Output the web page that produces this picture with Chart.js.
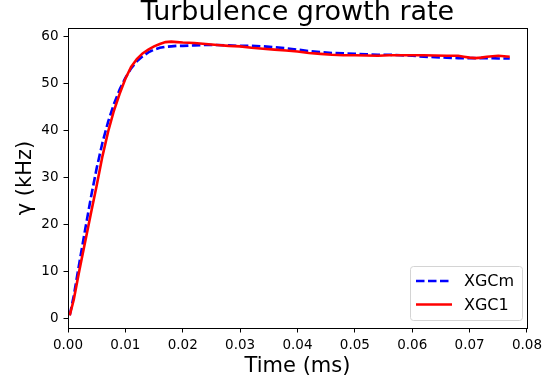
<!DOCTYPE html>
<html>
<head>
<meta charset="utf-8">
<script src="https://cdn.jsdelivr.net/npm/chart.js@4.4.1/dist/chart.umd.min.js"></script>
<style>
  html, body { margin: 0; padding: 0; background: #fff; }
  #wrap { width: 547px; height: 385px; }
</style>
</head>
<body>
<div id="wrap"><canvas id="growthChart" width="547" height="385"></canvas></div>
<script>
// time axis (ms), shared by both runs
const timeMs = [
  0.0003, 0.001, 0.002, 0.003, 0.004, 0.005, 0.006, 0.007, 0.008, 0.009,
  0.010, 0.011, 0.012, 0.013, 0.014, 0.015, 0.016, 0.017, 0.018, 0.019,
  0.020, 0.022, 0.024, 0.026, 0.028, 0.030, 0.032, 0.034, 0.036, 0.038,
  0.040, 0.042, 0.044, 0.046, 0.048, 0.050, 0.052, 0.054, 0.056, 0.058,
  0.060, 0.062, 0.064, 0.066, 0.068, 0.069, 0.070, 0.071, 0.072, 0.073,
  0.074, 0.075, 0.076, 0.077
];
// growth rate gamma (kHz)
const xgcm = [
  0.7, 4.8, 12.0, 19.0, 25.8, 32.0, 37.4, 41.9, 45.6, 48.7,
  51.2, 53.2, 54.7, 55.8, 56.6, 57.2, 57.6, 57.8, 57.9, 58.0,
  58.0, 58.1, 58.2, 58.2, 58.1, 58.0, 58.0, 57.9, 57.7, 57.5,
  57.2, 56.9, 56.7, 56.5, 56.4, 56.3, 56.2, 56.1, 56.1, 56.0,
  55.9, 55.7, 55.6, 55.5, 55.4, 55.4, 55.4, 55.4, 55.4, 55.4,
  55.4, 55.3, 55.3, 55.3
];
const xgc1 = [
  0.7, 4.0, 10.4, 16.4, 22.4, 28.3, 34.5, 39.8, 44.2, 47.8,
  51.0, 53.5, 55.2, 56.4, 57.2, 57.9, 58.4, 58.8, 58.9, 58.8,
  58.7, 58.6, 58.4, 58.2, 58.0, 57.9, 57.6, 57.4, 57.2, 57.0,
  56.8, 56.5, 56.3, 56.1, 56.0, 56.0, 55.95, 55.9, 56.0, 56.0,
  56.0, 56.0, 55.95, 55.9, 55.9, 55.7, 55.5, 55.4, 55.5, 55.7,
  55.8, 55.9, 55.8, 55.7
];
const seriesNames = ['XGCm', 'XGC1'];
const yTicks = [0, 10, 20, 30, 40, 50, 60];
const xTicks = [0, 0.01, 0.02, 0.03, 0.04, 0.05, 0.06, 0.07, 0.08];

const toPoints = (ys) => timeMs.map((t, i) => ({ x: t, y: ys[i] }));

Chart.defaults.font.family = '"DejaVu Sans", sans-serif';
Chart.defaults.color = '#000';

// title, full frame and boxed legend like matplotlib
const mplDecor = {
  id: 'mplDecor',
  afterDatasetsDraw(chart) {
    const { ctx, chartArea: a } = chart;
    ctx.save();
    ctx.strokeStyle = '#000';
    ctx.lineWidth = 1;
    ctx.strokeRect(Math.round(a.left) + 0.5, Math.round(a.top) + 0.5,
      Math.round(a.right - a.left), Math.round(a.bottom - a.top));
    ctx.restore();
  },
  afterDraw(chart) {
    const { ctx, chartArea: a } = chart;
    ctx.save();
    ctx.fillStyle = '#000';
    ctx.font = '27px "DejaVu Sans"';
    ctx.textAlign = 'center';
    ctx.textBaseline = 'alphabetic';
    ctx.fillText('Turbulence growth rate', (a.left + a.right) / 2, 19.5);

    // legend box
    const bx = 410.5, by = 266.5, bw = 112, bh = 54, r = 3;
    ctx.beginPath();
    ctx.moveTo(bx + r, by);
    ctx.arcTo(bx + bw, by, bx + bw, by + bh, r);
    ctx.arcTo(bx + bw, by + bh, bx, by + bh, r);
    ctx.arcTo(bx, by + bh, bx, by, r);
    ctx.arcTo(bx, by, bx + bw, by, r);
    ctx.closePath();
    ctx.fillStyle = 'rgba(255,255,255,0.8)';
    ctx.fill();
    ctx.strokeStyle = '#d4d4d4';
    ctx.stroke();

    const ds = chart.data.datasets;
    ctx.font = '16px "DejaVu Sans"';
    ctx.textAlign = 'left';
    ctx.textBaseline = 'middle';
    ds.forEach((d, i) => {
      const y = 281 + i * 23.5;
      ctx.beginPath();
      ctx.setLineDash(d.borderDash || []);
      ctx.strokeStyle = d.borderColor;
      ctx.lineWidth = d.borderWidth;
      ctx.moveTo(416, y);
      ctx.lineTo(452, y);
      ctx.stroke();
      ctx.setLineDash([]);
      ctx.fillStyle = '#000';
      ctx.fillText(d.label, 464, y + 1);
    });
    ctx.restore();
  }
};

new Chart(document.getElementById('growthChart'), {
  type: 'line',
  data: {
    datasets: [
      {
        label: seriesNames[0],
        data: toPoints(xgcm),
        borderColor: '#0000ff',
        borderWidth: 2.6,
        borderDash: [8.5, 3.5],
        pointRadius: 0,
        tension: 0,
        order: 1
      },
      {
        label: seriesNames[1],
        data: toPoints(xgc1),
        borderColor: '#ff0000',
        borderWidth: 2.6,
        pointRadius: 0,
        tension: 0,
        order: 0
      }
    ]
  },
  plugins: [mplDecor],
  options: {
    responsive: false,
    animation: false,
    layout: { padding: { top: 28, right: 17, left: 0, bottom: 0 } },
    plugins: {
      legend: { display: false },
      title: { display: false },
      tooltip: { enabled: false }
    },
    scales: {
      x: {
        type: 'linear',
        min: 0,
        max: 0.08,
        afterFit: (s) => { s.height = 57; },
        afterBuildTicks: (s) => { s.ticks = xTicks.map(v => ({ value: v })); },
        grid: { drawOnChartArea: false, tickLength: 4.5, tickColor: '#000', tickWidth: 1 },
        border: { color: '#000', width: 1 },
        ticks: {
          font: { size: 13.5 },
          padding: 5,
          maxRotation: 0,
          callback: (v) => v.toFixed(2)
        },
        title: {
          display: true,
          text: 'Time (ms)',
          font: { size: 21 },
          padding: { top: 0, bottom: 6 }
        }
      },
      y: {
        min: -2.0,
        max: 61.8,
        afterFit: (s) => { s.width = 68; },
        afterBuildTicks: (s) => { s.ticks = yTicks.map(v => ({ value: v })); },
        grid: { drawOnChartArea: false, tickLength: 4.5, tickColor: '#000', tickWidth: 1 },
        border: { color: '#000', width: 1 },
        ticks: {
          font: { size: 13.5 },
          padding: 5
        },
        title: {
          display: true,
          text: 'γ (kHz)',
          font: { size: 21 },
          padding: { top: 12.7, bottom: 0 }
        }
      }
    }
  }
});
</script>
</body>
</html>
